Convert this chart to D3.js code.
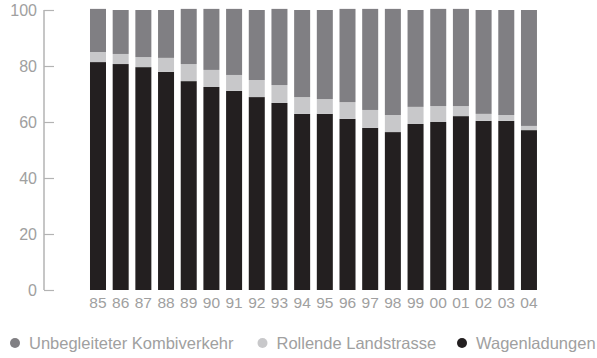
<!DOCTYPE html>
<html>
<head>
<meta charset="utf-8">
<script src="https://cdn.jsdelivr.net/npm/d3@7"></script>
<style>
  html, body { margin: 0; padding: 0; background: #fff; }
  svg { display: block; font-family: "Liberation Sans", Arial, sans-serif; }
</style>
</head>
<body>
<svg id="chart" width="597" height="358"></svg>
<script>
const years = ["85","86","87","88","89","90","91","92","93","94","95","96","97","98","99","00","01","02","03","04"];
const wagenladungen = [81.4,80.7,79.6,77.9,74.6,72.5,71.1,68.9,66.8,62.9,62.9,61.1,57.9,56.4,59.3,60.0,62.1,60.4,60.4,57.1];
const rollende = [3.6,3.6,3.6,5.0,6.1,6.1,5.7,6.1,6.4,6.0,5.3,6.0,6.4,6.1,6.1,5.7,3.6,2.5,2.1,1.5];
const unbegleitet = [15.4,15.7,16.8,17.1,19.7,21.8,23.6,25.0,27.2,31.1,31.8,33.3,36.1,37.9,34.6,34.7,34.7,37.1,37.5,41.4];
const yTicks = [0,20,40,60,80,100];
const seriesNames = ["Wagenladungen","Rollende Landstrasse","Unbegleiteter Kombiverkehr"];
const seriesColors = ["#231f20","#c8c8ca","#807f83"];
const legendOrder = ["Unbegleiteter Kombiverkehr","Rollende Landstrasse","Wagenladungen"];

const rows = years.map((y,i) => ({year:y, "Wagenladungen":wagenladungen[i], "Rollende Landstrasse":rollende[i], "Unbegleiteter Kombiverkehr":unbegleitet[i]}));
const stack = d3.stack().keys(seriesNames)(rows);

const svg = d3.select("#chart");
const x = d3.scaleBand().domain(years).range([86.66, 540.3]).paddingInner(0.2945).paddingOuter(0.147);
const y = d3.scaleLinear().domain([0,100]).range([290,10]);
const color = d3.scaleOrdinal().domain(seriesNames).range(seriesColors);
const textColor = "#a0a0a0";

svg.append("g").selectAll("g").data(stack).join("g")
  .attr("fill", d => color(d.key))
  .selectAll("rect").data(d => d).join("rect")
  .attr("x", d => x(d.data.year))
  .attr("width", x.bandwidth())
  .attr("y", d => y(d[1]))
  .attr("height", d => y(d[0]) - y(d[1]));

// y axis
const yAxis = svg.append("g").attr("transform","translate(44,0)")
  .call(d3.axisRight(y).tickValues(yTicks).tickSize(10).tickFormat(d3.format("d")));
yAxis.select(".domain").attr("stroke","#b3b3b3").attr("stroke-width",1.5).attr("d","M0,10V290");
yAxis.selectAll(".tick line").attr("stroke","#b3b3b3").attr("stroke-width",1.2);
yAxis.selectAll(".tick text").attr("x",-7).attr("text-anchor","end").attr("fill",textColor)
  .attr("font-size","16px").attr("dy","0.36em").attr("font-family","'Liberation Sans', Arial, sans-serif");

// x axis
const xAxis = svg.append("g").attr("transform","translate(0,292)")
  .call(d3.axisBottom(x).tickSize(0));
xAxis.select(".domain").remove();
xAxis.selectAll(".tick text").attr("fill",textColor).attr("font-size","15.5px").attr("dy","0.71em")
  .attr("y",4.5).attr("font-family","'Liberation Sans', Arial, sans-serif");

// legend
const legendX = [15, 262.5, 462];
const lg = svg.append("g").selectAll("g").data(legendOrder).join("g")
  .attr("transform",(d,i)=>`translate(${legendX[i]},343)`);
lg.append("circle").attr("r",5).attr("fill", d => color(d));
lg.append("text").attr("x",14).attr("dy","0.35em").attr("fill",textColor)
  .attr("font-size","16.5px").text(d => d);
</script>
</body>
</html>
